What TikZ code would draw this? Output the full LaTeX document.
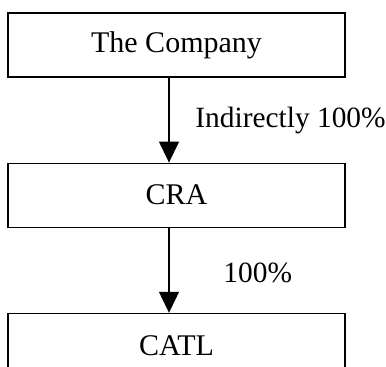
\documentclass[tikz,border=0pt]{standalone}
\usepackage{fontspec}
\setmainfont{Liberation Serif}
\usetikzlibrary{arrows.meta, positioning}

\begin{document}
\begin{tikzpicture}[
    x=0.5pt, y=-0.5pt,
    node distance=42.5pt,
    box/.style={draw, line width=0.6pt, minimum width=168.5pt,
                minimum height=32pt, inner sep=0pt, font=\fontsize{15}{18}\selectfont},
    arrow/.style={-{Triangle[length=10.5pt, width=10pt]}, line width=0.6pt},
    pct/.style={anchor=base west, inner sep=0pt, font=\fontsize{14.7}{18}\selectfont}
]
    \useasboundingbox (0,0) rectangle (386,367);
    \node[box] (company) at (176.5,45) {The Company};
    \node[box, below=of company] (cra) {CRA};
    \node[box, below=of cra] (catl) {CATL};

    \draw[arrow] ([xshift=-3.75pt]company.south) -- ([xshift=-3.75pt]cra.north);
    \draw[arrow] ([xshift=-3.75pt]cra.south) -- ([xshift=-3.75pt]catl.north);

    \node[pct] (indirect) at (195,128) {Indirectly 100\%};
    \node[pct] (direct) at (223,283) {100\%};
\end{tikzpicture}
\end{document}
